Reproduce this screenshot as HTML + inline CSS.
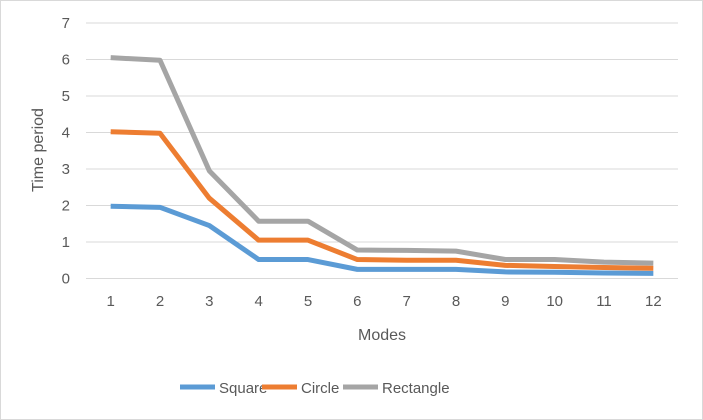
<!DOCTYPE html>
<html><head><meta charset="utf-8"><style>
body{margin:0;background:#fff;font-family:"Liberation Sans",sans-serif}
svg{display:block}
</style></head><body>
<svg width="703" height="420">
<rect x="0.5" y="0.5" width="702" height="419" fill="#fff" stroke="#d9d9d9"/>
<g id="grid"></g><g id="series"></g><g id="labels"></g>
<text x="43" y="150" transform="rotate(-90 43 150)" text-anchor="middle" font-size="16" fill="#595959">Time period</text>
<text x="382" y="340" text-anchor="middle" font-size="16" fill="#595959">Modes</text>
<g id="legend"></g>
</svg>
<script>
const categories=["1","2","3","4","5","6","7","8","9","10","11","12"];
const square=[1.98,1.95,1.45,0.52,0.52,0.25,0.25,0.25,0.18,0.17,0.15,0.14];
const circle=[4.02,3.98,2.2,1.05,1.05,0.52,0.5,0.5,0.36,0.33,0.3,0.28];
const rectangle=[6.05,5.98,2.95,1.57,1.57,0.78,0.77,0.75,0.52,0.52,0.45,0.42];
const yTicks=[0,1,2,3,4,5,6,7];
const seriesNames=["Square","Circle","Rectangle"];
const colors=["#5b9bd5","#ed7d31","#a5a5a5"];
const NS="http://www.w3.org/2000/svg";
const L=86,R=678,T=23,B=278.5;
const x=i=>L+(R-L)/categories.length*(i+0.5);
const y=v=>B-(B-T)*v/7;
function mk(t,a,p){const e=document.createElementNS(NS,t);for(const k in a)e.setAttribute(k,a[k]);p.appendChild(e);return e;}
const g=document.getElementById('grid'),lab=document.getElementById('labels');
yTicks.forEach(v=>{
 const l=mk('line',{x1:L,x2:R,y1:y(v),y2:y(v),stroke:'#d9d9d9','stroke-width':1},g);
 
 
 const t=mk('text',{x:70,y:y(v)+5,'text-anchor':'end','font-size':15,fill:'#595959'},lab);t.textContent=v;
 
 
});
categories.forEach((c,i)=>{
 const t=mk('text',{x:x(i),y:306,'text-anchor':'middle','font-size':15,fill:'#595959'},lab);t.textContent=c;
 
 
});
const s=document.getElementById('series');
[square,circle,rectangle].forEach((d,k)=>{
 const p=mk('polyline',{points:d.map((v,i)=>x(i)+','+y(v)).join(' '),fill:'none',stroke:colors[k],'stroke-width':5,'stroke-linejoin':'round'},s);
 
 
});
const lg=document.getElementById('legend');
const lx=[180,262,343];
seriesNames.forEach((n,k)=>{
 const l=mk('line',{x1:lx[k],x2:lx[k]+35,y1:387,y2:387,stroke:colors[k],'stroke-width':5},lg);
 
 
 const t=mk('text',{x:lx[k]+39,y:393,'font-size':15,fill:'#595959'},lg);t.textContent=n;
 
 
});
</script>
</body></html>
